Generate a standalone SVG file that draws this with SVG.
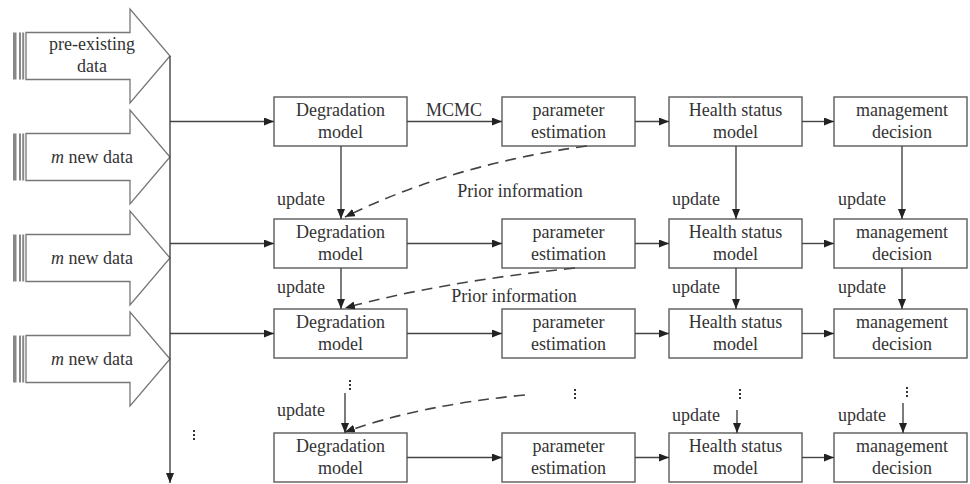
<svg xmlns="http://www.w3.org/2000/svg" width="970" height="484" viewBox="0 0 970 484">
<style>
text{font-family:"Liberation Serif","DejaVu Serif",serif;font-size:18px;fill:#333}
.c{text-anchor:middle}
.box{fill:#fff;stroke:#666;stroke-width:1.5}
.blk{fill:#fff;stroke:#777;stroke-width:1.3}
.ln{stroke:#444;stroke-width:1.4;fill:none}
.dash{stroke:#444;stroke-width:1.6;fill:none;stroke-dasharray:11 7}
.dots{stroke:#333;stroke-width:2;stroke-dasharray:2 2}
.st{fill:#888}
</style>
<defs>
<marker id="ah" viewBox="0 0 10 8" refX="10" refY="4" markerWidth="10" markerHeight="8" markerUnits="userSpaceOnUse" orient="auto">
<path d="M0,0 L10,4 L0,8 Z" fill="#222"/>
</marker>
<g id="stripe">
<rect class="st" x="13" y="-23.5" width="3.5" height="47"/>
<rect class="st" x="19" y="-23.5" width="2" height="47"/>
<rect class="st" x="22.2" y="-23.5" width="2" height="47"/>
</g>
</defs>

<g id="data1">
<use href="#stripe" y="56"/>
<polygon class="blk" points="26,32.5 130,32.5 130,9 170,56 130,103 130,79.5 26,79.5"/>
<text class="c" x="92" y="50">pre-existing</text>
<text class="c" x="92" y="72">data</text>
</g>
<g id="data2">
<use href="#stripe" y="157"/>
<polygon class="blk" points="26,133.5 130,133.5 130,110 170,157 130,204 130,180.5 26,180.5"/>
<text class="c" x="92" y="163"><tspan font-style="italic">m</tspan> new data</text>
</g>
<g id="data3">
<use href="#stripe" y="258"/>
<polygon class="blk" points="26,234.5 130,234.5 130,211 170,258 130,305 130,281.5 26,281.5"/>
<text class="c" x="92" y="264"><tspan font-style="italic">m</tspan> new data</text>
</g>
<g id="data4">
<use href="#stripe" y="359"/>
<polygon class="blk" points="26,335.5 130,335.5 130,312 170,359 130,406 130,382.5 26,382.5"/>
<text class="c" x="92" y="365"><tspan font-style="italic">m</tspan> new data</text>
</g>

<g id="r1">
<g id="deg1"><rect class="box" x="274" y="97" width="133" height="49"/><text class="c" x="340.5" y="116">Degradation</text><text class="c" x="340.5" y="138">model</text></g>
<g id="par1"><rect class="box" x="502" y="97" width="133" height="49"/><text class="c" x="568.5" y="116">parameter</text><text class="c" x="568.5" y="138">estimation</text></g>
<g id="hea1"><rect class="box" x="669" y="97" width="133" height="49"/><text class="c" x="735.5" y="116">Health status</text><text class="c" x="735.5" y="138">model</text></g>
<g id="man1"><rect class="box" x="834" y="97" width="133" height="49"/><text class="c" x="902" y="116">management</text><text class="c" x="902" y="138">decision</text></g>
</g>
<g id="r2">
<g id="deg2"><rect class="box" x="274" y="219" width="133" height="49"/><text class="c" x="340.5" y="238">Degradation</text><text class="c" x="340.5" y="260">model</text></g>
<g id="par2"><rect class="box" x="502" y="219" width="133" height="49"/><text class="c" x="568.5" y="238">parameter</text><text class="c" x="568.5" y="260">estimation</text></g>
<g id="hea2"><rect class="box" x="669" y="219" width="133" height="49"/><text class="c" x="735.5" y="238">Health status</text><text class="c" x="735.5" y="260">model</text></g>
<g id="man2"><rect class="box" x="834" y="219" width="133" height="49"/><text class="c" x="902" y="238">management</text><text class="c" x="902" y="260">decision</text></g>
</g>
<g id="r3">
<g id="deg3"><rect class="box" x="274" y="309" width="133" height="49"/><text class="c" x="340.5" y="328">Degradation</text><text class="c" x="340.5" y="350">model</text></g>
<g id="par3"><rect class="box" x="502" y="309" width="133" height="49"/><text class="c" x="568.5" y="328">parameter</text><text class="c" x="568.5" y="350">estimation</text></g>
<g id="hea3"><rect class="box" x="669" y="309" width="133" height="49"/><text class="c" x="735.5" y="328">Health status</text><text class="c" x="735.5" y="350">model</text></g>
<g id="man3"><rect class="box" x="834" y="309" width="133" height="49"/><text class="c" x="902" y="328">management</text><text class="c" x="902" y="350">decision</text></g>
</g>
<g id="r4">
<g id="deg4"><rect class="box" x="274" y="433" width="133" height="49"/><text class="c" x="340.5" y="452">Degradation</text><text class="c" x="340.5" y="474">model</text></g>
<g id="par4"><rect class="box" x="502" y="433" width="133" height="49"/><text class="c" x="568.5" y="452">parameter</text><text class="c" x="568.5" y="474">estimation</text></g>
<g id="hea4"><rect class="box" x="669" y="433" width="133" height="49"/><text class="c" x="735.5" y="452">Health status</text><text class="c" x="735.5" y="474">model</text></g>
<g id="man4"><rect class="box" x="834" y="433" width="133" height="49"/><text class="c" x="902" y="452">management</text><text class="c" x="902" y="474">decision</text></g>
</g>

<g id="connectors">
<line class="ln" x1="170" y1="56" x2="170" y2="483" marker-end="url(#ah)"/>
<line class="ln" x1="170" y1="121.5" x2="274" y2="121.5" marker-end="url(#ah)"/>
<line class="ln" x1="170" y1="243.5" x2="274" y2="243.5" marker-end="url(#ah)"/>
<line class="ln" x1="170" y1="333.5" x2="274" y2="333.5" marker-end="url(#ah)"/>

<line class="ln" x1="407" y1="121.5" x2="502" y2="121.5" marker-end="url(#ah)"/>
<line class="ln" x1="635" y1="121.5" x2="669" y2="121.5" marker-end="url(#ah)"/>
<line class="ln" x1="802" y1="121.5" x2="834" y2="121.5" marker-end="url(#ah)"/>
<line class="ln" x1="407" y1="243.5" x2="502" y2="243.5" marker-end="url(#ah)"/>
<line class="ln" x1="635" y1="243.5" x2="669" y2="243.5" marker-end="url(#ah)"/>
<line class="ln" x1="802" y1="243.5" x2="834" y2="243.5" marker-end="url(#ah)"/>
<line class="ln" x1="407" y1="333.5" x2="502" y2="333.5" marker-end="url(#ah)"/>
<line class="ln" x1="635" y1="333.5" x2="669" y2="333.5" marker-end="url(#ah)"/>
<line class="ln" x1="802" y1="333.5" x2="834" y2="333.5" marker-end="url(#ah)"/>
<line class="ln" x1="407" y1="457.5" x2="502" y2="457.5" marker-end="url(#ah)"/>
<line class="ln" x1="635" y1="457.5" x2="669" y2="457.5" marker-end="url(#ah)"/>
<line class="ln" x1="802" y1="457.5" x2="834" y2="457.5" marker-end="url(#ah)"/>

<line class="ln" x1="341" y1="146" x2="341" y2="219" marker-end="url(#ah)"/>
<line class="ln" x1="736" y1="146" x2="736" y2="219" marker-end="url(#ah)"/>
<line class="ln" x1="902" y1="146" x2="902" y2="219" marker-end="url(#ah)"/>
<line class="ln" x1="341" y1="268" x2="341" y2="309" marker-end="url(#ah)"/>
<line class="ln" x1="736" y1="268" x2="736" y2="309" marker-end="url(#ah)"/>
<line class="ln" x1="902" y1="268" x2="902" y2="309" marker-end="url(#ah)"/>
<line class="ln" x1="345" y1="393" x2="345" y2="433" marker-end="url(#ah)"/>
<line class="ln" x1="737" y1="410" x2="737" y2="433" marker-end="url(#ah)"/>
<line class="ln" x1="903" y1="403" x2="903" y2="433" marker-end="url(#ah)"/>

<path class="dash" d="M587,146 Q450,165 345,217" marker-end="url(#ah)"/>
<path class="dash" d="M575,268 Q440,282 345,308" marker-end="url(#ah)"/>
<path class="dash" d="M525,395 Q420,405 345,432" marker-end="url(#ah)"/>
</g>

<g id="labels">
<text class="c" x="454" y="116">MCMC</text>
<text class="c" x="520" y="197">Prior information</text>
<text class="c" x="514" y="302">Prior information</text>
<text x="277" y="205">update</text>
<text x="672" y="205">update</text>
<text x="838" y="205">update</text>
<text x="277" y="293">update</text>
<text x="672" y="293">update</text>
<text x="838" y="293">update</text>
<text x="277" y="416">update</text>
<text x="672" y="421">update</text>
<text x="838" y="421">update</text>
<line class="dots" x1="350" y1="380" x2="350" y2="391"/>
<line class="dots" x1="740" y1="389" x2="740" y2="400"/>
<line class="dots" x1="907" y1="387" x2="907" y2="398"/>
<line class="dots" x1="575" y1="389" x2="575" y2="400"/>
<line class="dots" x1="194" y1="430" x2="194" y2="441"/>
</g>
</svg>
